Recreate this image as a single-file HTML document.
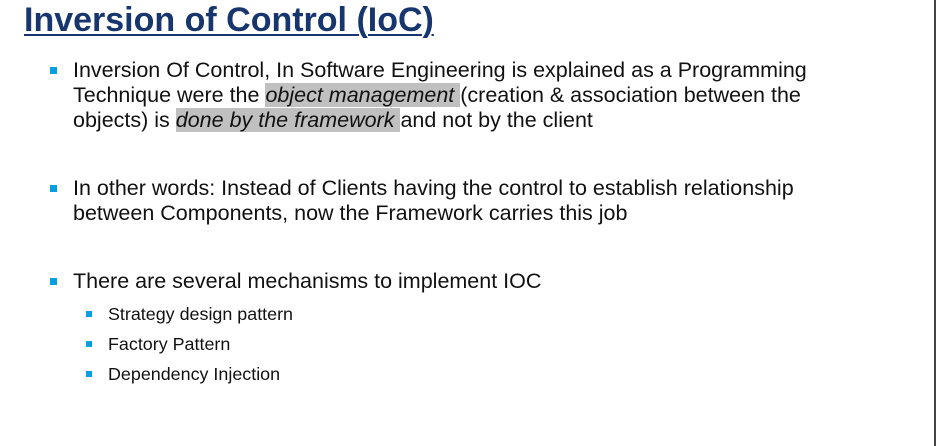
<!DOCTYPE html>
<html><head><meta charset="utf-8"><style>
html,body{margin:0;padding:0;width:938px;height:446px;overflow:hidden;background:#fff}
body{position:relative;font-family:"Liberation Sans",Arial,sans-serif;color:#111}
.t{position:absolute;left:24px;top:0px;font-size:34px;font-weight:bold;color:#17366e;text-decoration:underline;text-decoration-thickness:2px;text-underline-offset:3px;white-space:nowrap;line-height:40px}
.l{position:absolute;left:73px;font-size:21.5px;white-space:nowrap;line-height:25px}
.s{position:absolute;left:108px;font-size:17.9px;white-space:nowrap;line-height:20px}
.b{position:absolute;left:50px;width:7px;height:7px;background:#00a0e3}
.sb{position:absolute;left:86px;width:6px;height:6px;background:#00a0e3}
.h{background:#c0c0c0;font-style:italic}
.edge{position:absolute;left:934px;top:0;width:2px;height:446px;background:#444}
</style></head><body>
<div class="t">Inversion of Control (IoC)</div>
<div class="b" style="top:67px"></div>
<div class="l" style="top:58px">Inversion Of Control, In Software Engineering is explained as a Programming</div>
<div class="l" style="top:83px">Technique were the <span class="h">object management </span>(creation &amp; association between the</div>
<div class="l" style="top:108px">objects) is <span class="h">done by the framework </span>and not by the client</div>
<div class="b" style="top:185px"></div>
<div class="l" style="top:176px">In other words: Instead of Clients having the control to establish relationship</div>
<div class="l" style="top:201px">between Components, now the Framework carries this job</div>
<div class="b" style="top:278px"></div>
<div class="l" style="top:269px">There are several mechanisms to implement IOC</div>
<div class="sb" style="top:311px"></div>
<div class="s" style="top:304px">Strategy design pattern</div>
<div class="sb" style="top:341px"></div>
<div class="s" style="top:334px">Factory Pattern</div>
<div class="sb" style="top:371px"></div>
<div class="s" style="top:364px">Dependency Injection</div>
<div class="edge"></div>
</body></html>
